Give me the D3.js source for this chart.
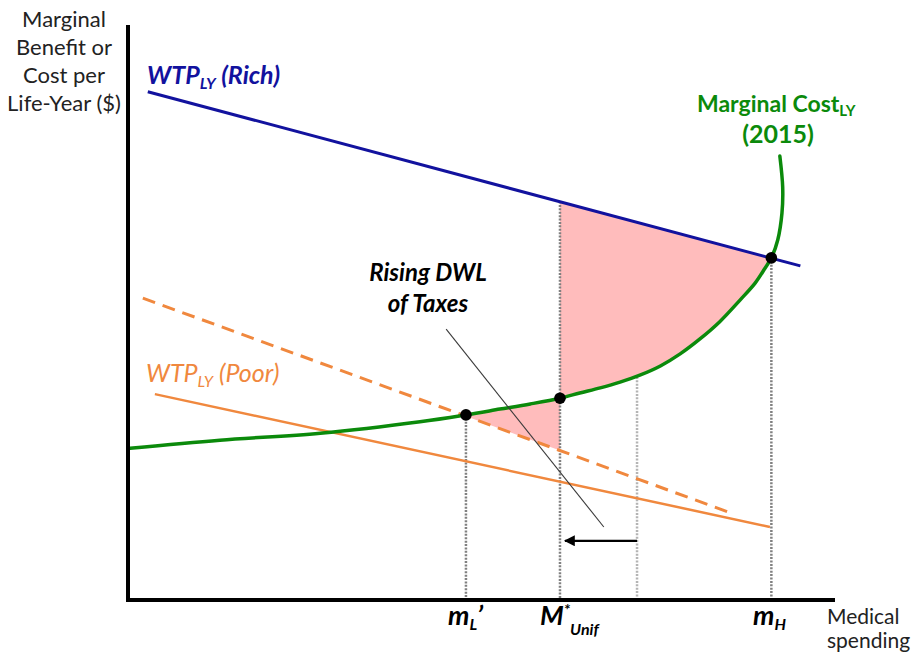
<!DOCTYPE html>
<html>
<head>
<meta charset="utf-8">
<script src="https://cdn.jsdelivr.net/npm/d3@7/dist/d3.min.js"></script>
<style>
  html, body { margin: 0; padding: 0; background: #fff; }
  svg { display: block; }
  text { font-family: Lato, "Open Sans", sans-serif; }
</style>
</head>
<body>
<svg id="chart" width="920" height="662"></svg>
<script>
// ---------- DATA (abstract units, 0..100 on each axis) ----------
const mcCurve = [
  [0.3, 26.4], [13.0, 27.8], [27.2, 29.0], [41.3, 31.0], [47.8, 32.2],
  [52.6, 33.2], [56.9, 34.1], [61.1, 35.1], [63.9, 36.0], [66.8, 36.9],
  [69.6, 37.9], [72.4, 39.1], [75.3, 40.7], [78.1, 42.8], [80.9, 45.4],
  [83.7, 48.4], [86.6, 52.2], [88.7, 55.1], [90.1, 57.7], [91.0, 59.5],
  [91.9, 62.6], [92.5, 67.3], [92.6, 71.8], [92.2, 77.2]
];
const wtpRich = [[2.8, 88.4], [95.1, 58.1]];
const wtpPoor = [[3.8, 35.8], [90.8, 12.7]];
const wtpPoorShifted = [[2.1, 52.5], [84.9, 15.3]];
const equilibria = [[47.8, 32.2], [61.1, 35.1], [91.0, 59.5]];   // m_L', M*_Unif, m_H
const dropLines = [
  { x: 47.8, top: 32.2, light: false },
  { x: 61.1, top: 69.3, light: false },
  { x: 72.0, top: 38.8, light: true },
  { x: 91.0, top: 59.5, light: false }
];
const shiftArrow = [[72.0, 10.3], [61.8, 10.3]];
const leaderLine = [[45.0, 47.1], [67.3, 12.7]];
const xTickLabels = ["m_L'", "M*_Unif", "m_H"];

// ---------- SETUP ----------
const svg = d3.select("#chart");
const x = d3.scaleLinear().domain([0, 100]).range([128, 835]);
const y = d3.scaleLinear().domain([0, 100]).range([600, 25]);

const C = {
  blue: "#12129e",
  green: "#0b8a0b",
  orange: "#f0883e",
  pink: "#ffbcbc",
  dot: "#808080",
  dotLight: "#b4b4b4"
};

const lineGen = d3.line().x(d => x(d[0])).y(d => y(d[1]));
const curveGen = d3.line().x(d => x(d[0])).y(d => y(d[1])).curve(d3.curveCatmullRom.alpha(0.5));

function lineAt(seg, xv) {
  const [a, b] = seg;
  return a[1] + (b[1] - a[1]) * (xv - a[0]) / (b[0] - a[0]);
}

// ---------- SHADED AREAS ----------
const mStar = equilibria[1][0], mH = equilibria[2][0], mL = equilibria[0][0];
{
  const sub = mcCurve.filter(d => d[0] >= mStar - 1e-6 && d[0] <= mH + 1e-6 && d[1] <= 60);
  const back = sub.slice().reverse();
  let p = "M" + x(mStar) + "," + y(lineAt(wtpRich, mStar)) +
          "L" + x(mH) + "," + y(lineAt(wtpRich, mH));
  p += curveGen(back).replace(/^M/, "L") + "Z";
  svg.append("path").attr("d", p).attr("fill", C.pink);
}
{
  const sub = mcCurve.filter(d => d[0] >= mL - 1e-6 && d[0] <= mStar + 1e-6);
  let p = curveGen(sub);
  p += "L" + x(mStar) + "," + y(lineAt(wtpPoorShifted, mStar)) +
       "L" + x(mL) + "," + y(lineAt(wtpPoorShifted, mL)) + "Z";
  svg.append("path").attr("d", p).attr("fill", C.pink);
}

// ---------- DROP LINES ----------
svg.selectAll("line.drop").data(dropLines).join("line")
  .attr("class", "drop")
  .attr("x1", d => x(d.x)).attr("x2", d => x(d.x))
  .attr("y1", d => y(d.top)).attr("y2", y(0))
  .attr("stroke", d => d.light ? C.dotLight : C.dot)
  .attr("stroke-width", 2.5)
  .attr("stroke-dasharray", "2,1.4");

// ---------- CURVES ----------
svg.append("path").attr("d", lineGen(wtpPoorShifted)).attr("fill", "none")
  .attr("stroke", C.orange).attr("stroke-width", 3).attr("stroke-dasharray", "13,8");
svg.append("path").attr("d", lineGen(wtpPoor)).attr("fill", "none")
  .attr("stroke", C.orange).attr("stroke-width", 2.5);
svg.append("path").attr("d", lineGen(wtpRich)).attr("fill", "none")
  .attr("stroke", C.blue).attr("stroke-width", 3);
svg.append("path").attr("d", curveGen(mcCurve)).attr("fill", "none")
  .attr("stroke", C.green).attr("stroke-width", 3.5).attr("stroke-linecap", "round");

svg.append("path").attr("d", lineGen(leaderLine)).attr("fill", "none")
  .attr("stroke", "#3a3a3a").attr("stroke-width", 1.1);

svg.append("defs").append("marker")
  .attr("id", "arrowhead").attr("viewBox", "0 0 10 10")
  .attr("refX", 9).attr("refY", 5)
  .attr("markerWidth", 5).attr("markerHeight", 5)
  .attr("markerUnits", "strokeWidth")
  .attr("orient", "auto")
  .append("path").attr("d", "M0,0L10,5L0,10Z").attr("fill", "#000");
svg.append("path").attr("d", lineGen(shiftArrow)).attr("fill", "none")
  .attr("stroke", "#000").attr("stroke-width", 2.2)
  .attr("marker-end", "url(#arrowhead)");

svg.selectAll("circle.eq").data(equilibria).join("circle")
  .attr("class", "eq")
  .attr("cx", d => x(d[0])).attr("cy", d => y(d[1])).attr("r", 5.8)
  .attr("fill", "#000");

// ---------- AXES ----------
svg.append("line").attr("x1", x(0)).attr("x2", x(0)).attr("y1", y(100)).attr("y2", y(0) + 2)
  .attr("stroke", "#000").attr("stroke-width", 4);
svg.append("line").attr("x1", x(0) - 2).attr("x2", x(100)).attr("y1", y(0)).attr("y2", y(0))
  .attr("stroke", "#000").attr("stroke-width", 4);

// ---------- TEXT ----------
const yLabel = ["Marginal", "Benefit or", "Cost per", "Life-Year ($)"];
svg.append("g").selectAll("text").data(yLabel).join("text")
  .attr("x", 64).attr("y", (d, i) => 27 + i * 28)
  .attr("text-anchor", "middle").attr("font-size", 22).attr("fill", "#222")
  .text(d => d);

const xLabel = ["Medical", "spending"];
svg.append("g").selectAll("text").data(xLabel).join("text")
  .attr("x", 827).attr("y", (d, i) => 624 + i * 24)
  .attr("font-size", 21).attr("fill", "#222")
  .text(d => d);

function richText(g, parts, attrs) {
  const t = g.append("text");
  Object.entries(attrs).forEach(([k, v]) => t.attr(k, v));
  parts.forEach(p => {
    const ts = t.append("tspan").text(p.t);
    if (p.size) ts.attr("font-size", p.size);
    if (p.dy) ts.attr("dy", p.dy);
  });
  return t;
}

richText(svg, [
  { t: "WTP" }, { t: "LY", size: 16, dy: 5 }, { t: " (Rich)", dy: -5 }
], { x: 147, y: 84, "font-size": 25, "font-weight": 700, "font-style": "italic", fill: C.blue });

richText(svg, [
  { t: "WTP" }, { t: "LY", size: 16, dy: 5 }, { t: " (Poor)", dy: -5 }
], { x: 146, y: 382, "font-size": 25, "font-weight": 400, "font-style": "italic", fill: C.orange });

richText(svg, [
  { t: "Marginal Cost" }, { t: "LY", size: 15, dy: 4 }
], { x: 697, y: 112, "font-size": 23, "font-weight": 700, fill: C.green });
svg.append("text").attr("x", 778).attr("y", 143).attr("text-anchor", "middle")
  .attr("font-size", 25).attr("font-weight", 700).attr("fill", C.green).text("(2015)");

svg.append("g").selectAll("text").data(["Rising DWL", "of Taxes"]).join("text")
  .attr("x", 428).attr("y", (d, i) => 281 + i * 31)
  .attr("text-anchor", "middle").attr("font-size", 24).attr("font-weight", 700)
  .attr("font-style", "italic").attr("fill", "#000").text(d => d);

const tickG = svg.append("g").attr("font-weight", 700).attr("font-style", "italic").attr("fill", "#000");
richText(tickG, [
  { t: "m" }, { t: "L", size: 16, dy: 5 }, { t: "\u2019", dy: -5 }
], { x: 448, y: 625, "font-size": 27 });
richText(tickG, [
  { t: "M" }, { t: "*", size: 16, dy: -10 }, { t: "Unif", size: 16, dy: 20 }
], { x: 540, y: 625, "font-size": 27 });
richText(tickG, [
  { t: "m" }, { t: "H", size: 16, dy: 5 }
], { x: 753, y: 625, "font-size": 27 });
</script>
</body>
</html>
